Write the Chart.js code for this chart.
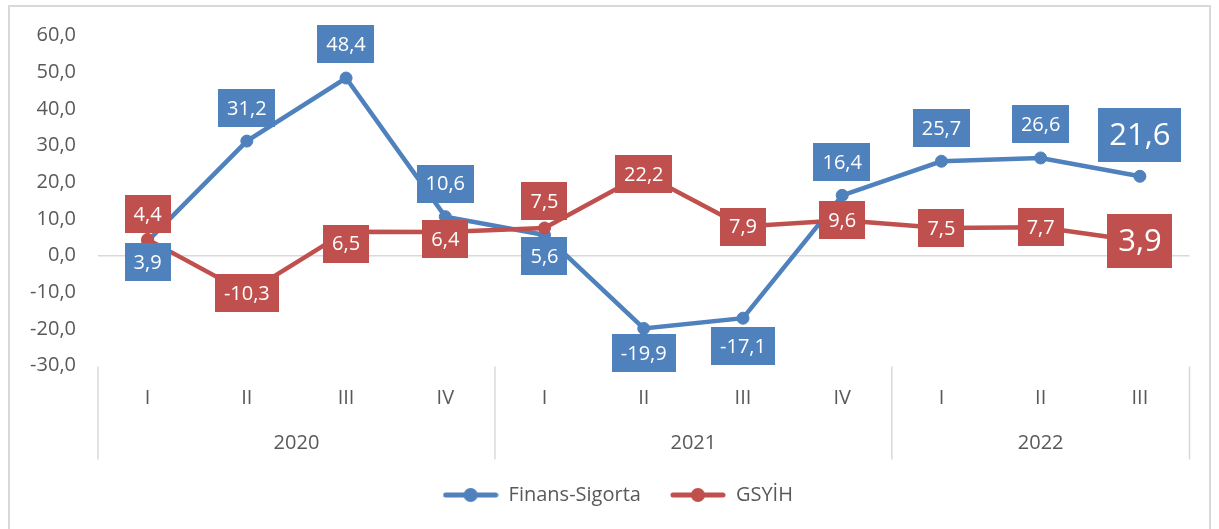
<!DOCTYPE html>
<html>
<head>
<meta charset="utf-8">
<script src="https://cdn.jsdelivr.net/npm/chart.js@4/dist/chart.umd.min.js"></script>
<style>
  html, body { margin: 0; padding: 0; background: #fff; overflow: hidden; }
  #wrap { position: relative; width: 1219px; height: 529px; }
</style>
</head>
<body>
<div id="wrap"><canvas id="chart"></canvas></div>
<script>
/* ===== data ===== */
const quarterLabels = ["I", "II", "III", "IV", "I", "II", "III", "IV", "I", "II", "III"];
const quarterYears  = ["2020", "2020", "2020", "2020", "2021", "2021", "2021", "2021", "2022", "2022", "2022"];
const finansSigorta = [3.9, 31.2, 48.4, 10.6, 5.6, -19.9, -17.1, 16.4, 25.7, 26.6, 21.6];
const gsyih         = [4.4, -10.3, 6.5, 6.4, 7.5, 22.2, 7.9, 9.6, 7.5, 7.7, 3.9];
const yMin = -30, yMax = 60, yStep = 10;

// label nudges from the point, px (+ = down)
const finansLabelDy = [21, -33, -34, -33, 21, 25, 28, -33, -33, -34, -41];
const gsyihLabelDy  = [-25, 0, 12, 7, -27, 0, 0, 0, 0, 0, 0];

const BLUE = "#4F81BD", RED = "#C0504D", GRAY = "#595959", LINE = "#D9D9D9";
const FONT = '"Open Sans", "Noto Sans", sans-serif';
const fmt = v => v.toFixed(1).replace(".", ",");

// legend swatch: line with a dot in the middle
function swatch(color) {
  const c = document.createElement("canvas");
  c.width = 56; c.height = 16;
  const g = c.getContext("2d");
  g.strokeStyle = color; g.lineWidth = 5; g.lineCap = "round";
  g.beginPath(); g.moveTo(3, 8); g.lineTo(53, 8); g.stroke();
  g.fillStyle = color;
  g.beginPath(); g.arc(28, 8, 7, 0, Math.PI * 2); g.fill();
  return c;
}

const frame = {
  id: "frame",
  afterLayout(chart) {
    // Excel centres the legend on the whole chart, nudge it right a bit
    chart.legend.left += 18;
    chart.legend.right += 18;
  },
  beforeDraw(chart) {
    const ctx = chart.ctx;
    ctx.save();
    ctx.fillStyle = "#fff";
    ctx.fillRect(0, 0, chart.width, chart.height);
    ctx.strokeStyle = LINE; ctx.lineWidth = 2;
    ctx.strokeRect(9, 6, chart.width - 18, chart.height + 10);
    ctx.restore();
  }
};

const boxLabels = {
  id: "boxLabels",
  afterDatasetsDraw(chart) {
    const ctx = chart.ctx;
    ctx.save();
    ctx.textAlign = "center";
    ctx.textBaseline = "middle";
    chart.data.datasets.forEach((ds, di) => {
      chart.getDatasetMeta(di).data.forEach((pt, i) => {
        const big = i === ds.data.length - 1;
        ctx.font = `${big ? 31 : 20}px ${FONT}`;
        const txt = fmt(ds.data[i]);
        const w = ctx.measureText(txt).width + (big ? 22 : 18);
        const h = big ? 54 : 38;
        const cx = pt.x, cy = pt.y + ds.labelDy[i];
        ctx.fillStyle = ds.borderColor;
        ctx.fillRect(Math.round(cx - w / 2), Math.round(cy - h / 2), Math.round(w), h);
        ctx.fillStyle = "#fff";
        ctx.fillText(txt, cx, cy + 1);
      });
    });
    ctx.restore();
  }
};

const yearAxis = {
  id: "yearAxis",
  afterDraw(chart) {
    const x = chart.scales.x, ctx = chart.ctx;
    const half = (x.getPixelForValue(1) - x.getPixelForValue(0)) / 2;
    const top = chart.chartArea.bottom + 1, bottom = top + 93;
    ctx.save();
    ctx.strokeStyle = LINE; ctx.lineWidth = 1.5;
    ctx.fillStyle = GRAY;
    ctx.font = `20px ${FONT}`;
    ctx.textAlign = "center"; ctx.textBaseline = "middle";
    let start = 0;
    for (let i = 1; i <= quarterYears.length; i++) {
      if (i === quarterYears.length || quarterYears[i] !== quarterYears[start]) {
        const a = x.getPixelForValue(start), b = x.getPixelForValue(i - 1);
        ctx.beginPath();
        ctx.moveTo(a - half, top); ctx.lineTo(a - half, bottom);
        if (i === quarterYears.length) { ctx.moveTo(b + half, top); ctx.lineTo(b + half, bottom); }
        ctx.stroke();
        ctx.fillText(quarterYears[start], (a + b) / 2, top + 77);
        start = i;
      }
    }
    ctx.restore();
  }
};

new Chart(document.getElementById("chart"), {
  type: "line",
  data: {
    labels: quarterLabels,
    datasets: [
      { label: "Finans-Sigorta", data: finansSigorta, labelDy: finansLabelDy, order: 1,
        borderColor: BLUE, backgroundColor: BLUE, borderWidth: 4.5,
        pointRadius: 6, pointBorderWidth: 1, pointBackgroundColor: BLUE, tension: 0 },
      { label: "GSYİH", data: gsyih, labelDy: gsyihLabelDy, order: 0,
        borderColor: RED, backgroundColor: RED, borderWidth: 4.5,
        pointRadius: 6, pointBorderWidth: 1, pointBackgroundColor: RED, tension: 0 }
    ]
  },
  options: {
    responsive: true,
    maintainAspectRatio: false,
    animation: false,
    layout: { padding: { left: 10, top: 35.5, right: 29.5, bottom: 14 } },
    plugins: {
      tooltip: { enabled: false },
      legend: {
        position: "bottom",
        labels: {
          usePointStyle: true,
          pointStyleWidth: 56,
          padding: 29,
          color: GRAY,
          font: { family: FONT, size: 20 },
          generateLabels: chart => chart.data.datasets.map((ds, i) => ({
            text: ds.label, pointStyle: swatch(ds.borderColor), fillStyle: ds.borderColor,
            strokeStyle: ds.borderColor, lineWidth: 0, fontColor: GRAY, datasetIndex: i, hidden: false
          }))
        }
      }
    },
    scales: {
      x: {
        offset: true,
        grid: { display: false },
        border: { display: false },
        ticks: { color: GRAY, padding: 12.5, font: { family: FONT, size: 20 }, maxRotation: 0 },
        afterFit: s => { s.height = 90.5; }
      },
      y: {
        min: yMin, max: yMax,
        grid: {
          drawTicks: false, lineWidth: 1.5,
          color: c => c.tick && c.tick.value === 0 ? LINE : "rgba(0,0,0,0)"
        },
        border: { display: false },
        ticks: { stepSize: yStep, color: GRAY, padding: 22, font: { family: FONT, size: 20 }, callback: v => fmt(v) },
        afterFit: s => { s.width = 88; }
      }
    }
  },
  plugins: [frame, boxLabels, yearAxis]
});
</script>
</body>
</html>
